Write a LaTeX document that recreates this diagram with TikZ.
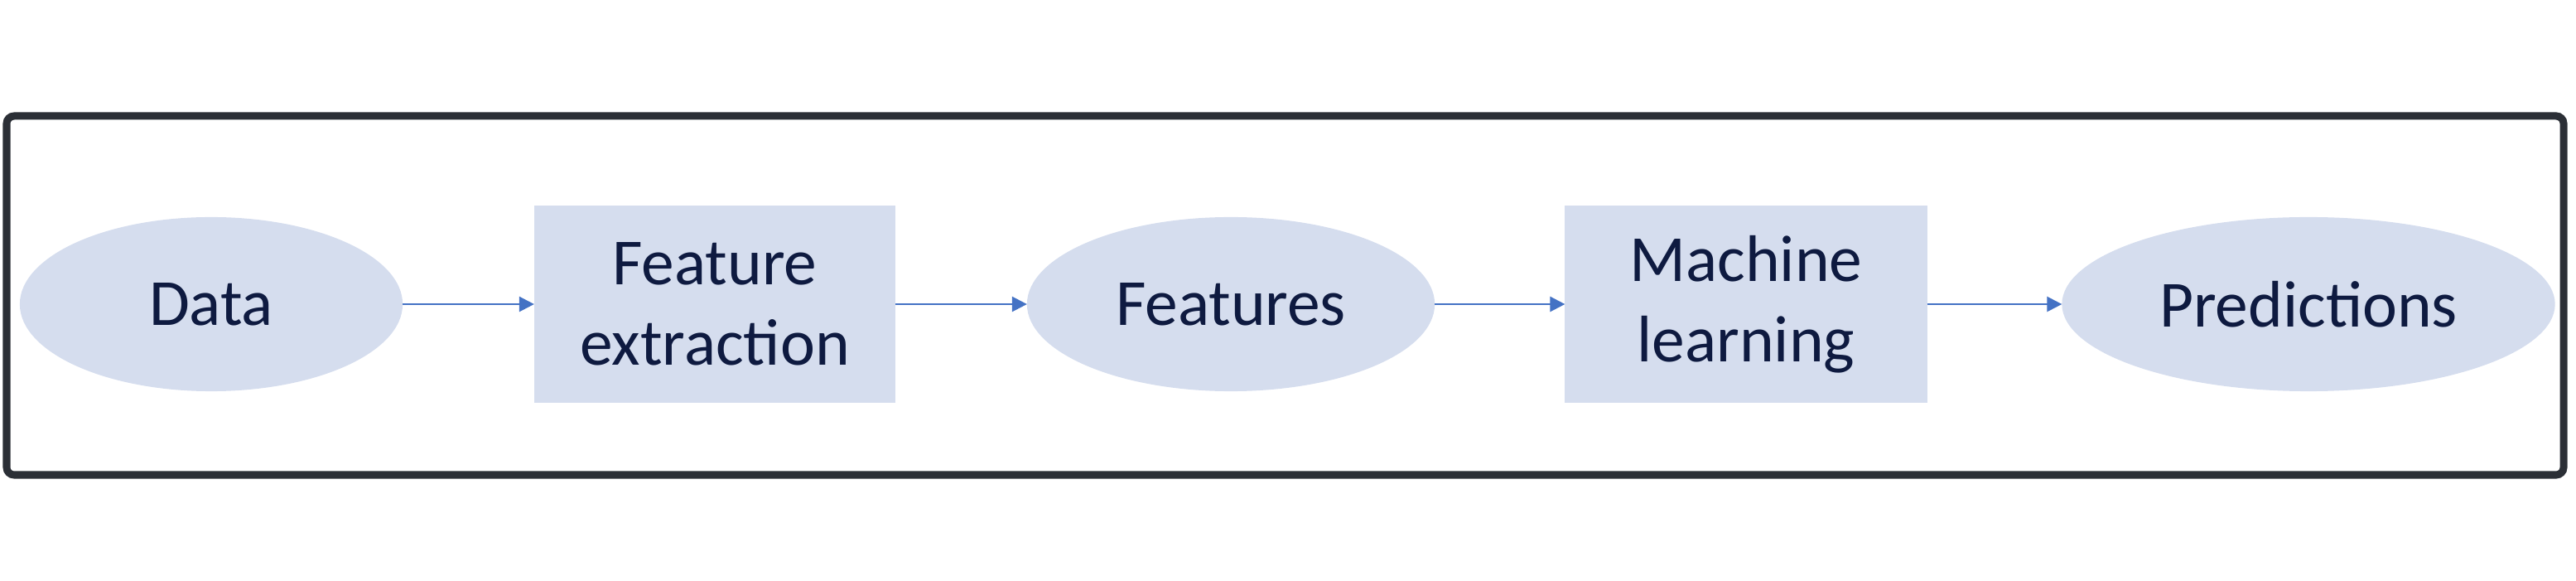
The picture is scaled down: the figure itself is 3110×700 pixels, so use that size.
\documentclass[tikz,border=0pt]{standalone}
\usepackage{fontspec}
\setmainfont{Carlito}
\usepackage{xcolor}
\usetikzlibrary{positioning,arrows.meta,shapes.geometric}

\definecolor{boxfill}{RGB}{213,221,238}
\definecolor{txtnavy}{RGB}{14,26,64}
\definecolor{arrblue}{RGB}{68,114,196}
\definecolor{framegray}{RGB}{43,47,54}

\tikzset{
	stage/.style={fill=boxfill,draw=none,inner sep=0pt,outer sep=0pt,align=center,
		text=txtnavy,font=\fontsize{22.6}{27.5}\selectfont},
	oval/.style={stage,ellipse,minimum height=2.10cm},
	block/.style={stage,rectangle,minimum width=4.36cm,minimum height=2.38cm},
	flow/.style={arrblue,line width=0.025cm,-{Triangle[length=0.18cm,width=0.18cm]}}
}

\begin{document}
\begin{tikzpicture}[x=0.01cm,y=0.01cm]
								\useasboundingbox (0,0) rectangle (3110,700);
								% outer frame
								\draw[framegray,line width=0.09cm,rounded corners=0.09cm] (8,127) rectangle (3095,560);
								% pipeline
								\node[oval,minimum width=4.62cm] (data) at (255,333) {Data};
								\node[block] (fextr) at (863,333) {Feature\\extraction};
								\node[oval,minimum width=4.92cm] (feats) at (1486,333) {Features};
								\node[block,minimum width=4.37cm] (mlearn) at (2108,333) {Machine\\learning};
								\node[oval,minimum width=5.95cm] (preds) at (2787,333) {Predictions};
								\draw[flow] (data.east) -- (fextr.west);
								\draw[flow] (fextr.east) -- (feats.west);
								\draw[flow] (feats.east) -- (mlearn.west);
								\draw[flow] (mlearn.east) -- (preds.west);
							\end{tikzpicture}
\end{document}
